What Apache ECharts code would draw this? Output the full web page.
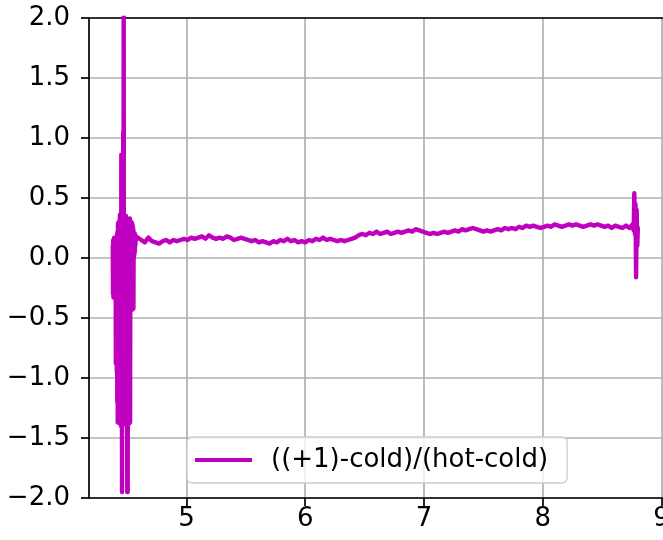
<!DOCTYPE html>
<html>
<head>
<meta charset="utf-8">
<script src="https://cdn.jsdelivr.net/npm/echarts@6/dist/echarts.min.js"></script>
<style>html,body{margin:0;padding:0;background:#fff}#c{width:663px;height:540px}</style>
</head>
<body>
<div id="c"></div>
<script>
var seriesName = "((+1)-cold)/(hot-cold)";
var xTicks = [5, 6, 7, 8, 9];
var yTicks = [-2.0, -1.5, -1.0, -0.5, 0.0, 0.5, 1.0, 1.5, 2.0];

// noisy start region
var xsStart = [4.380,4.382,4.384,4.386,4.388,4.390,4.392,4.394,4.396,4.398,4.400,4.402,4.404,4.406,4.408,4.410,4.412,4.414,4.416,4.418,4.420,4.422,4.424,4.426,4.428,4.430,4.432,4.434,4.436,4.438,4.440,4.442,4.444,4.446,4.448,4.450,4.452,4.454,4.456,4.458,4.460,4.462,4.464,4.466,4.468,4.470,4.472,4.474,4.476,4.478,4.480,4.482,4.484,4.486,4.488,4.490,4.492,4.494,4.496,4.498,4.500,4.502,4.504,4.506,4.508,4.510,4.512,4.514,4.516,4.518,4.520,4.522,4.524,4.526,4.528,4.530,4.532,4.534,4.536,4.538,4.540,4.542,4.544,4.546,4.548,4.550,4.552,4.554,4.556,4.558,4.560,4.562,4.564,4.566,4.568,4.570,4.574];
var ysStart = [0.10,-0.30,0.15,-0.33,0.12,-0.25,0.17,-0.33,0.08,-0.30,0.16,-0.28,0.14,-0.88,0.10,-0.70,0.17,-0.95,0.20,-1.20,0.22,-1.37,0.29,-1.30,0.25,-1.37,0.30,-1.35,0.28,-1.38,0.36,-1.30,0.33,-1.37,0.35,-1.40,0.86,-1.37,0.30,-1.95,0.32,-1.36,0.48,-1.38,1.05,-1.30,2.60,-1.37,0.35,-1.32,0.30,-1.38,0.33,-1.35,0.28,-1.30,0.35,-1.37,0.30,-1.40,0.29,-1.95,0.30,-1.95,0.32,-1.35,0.30,-1.20,0.28,-1.38,0.29,-1.30,0.33,-1.37,0.30,-0.43,0.29,-0.40,0.30,-0.43,0.28,-0.41,0.29,-0.43,0.27,-0.38,0.25,-0.42,0.22,0.00,0.20,0.03,0.19,0.05,0.20,0.10,0.18];

// main plateau
var xsMain = [4.59,4.62,4.65,4.68,4.71,4.74,4.77,4.80,4.83,4.86,4.89,4.92,4.95,4.98,5.01,5.04,5.07,5.10,5.13,5.16,5.19,5.22,5.25,5.28,5.31,5.34,5.37,5.40,5.43,5.46,5.49,5.52,5.55,5.58,5.61,5.64,5.67,5.70,5.73,5.76,5.79,5.82,5.85,5.88,5.91,5.94,5.97,6.00,6.03,6.06,6.09,6.12,6.15,6.18,6.21,6.24,6.27,6.30,6.33,6.36,6.39,6.42,6.45,6.48,6.51,6.54,6.57,6.60,6.63,6.66,6.69,6.72,6.75,6.78,6.81,6.84,6.87,6.90,6.93,6.96,6.99,7.02,7.05,7.08,7.11,7.14,7.17,7.20,7.23,7.26,7.29,7.32,7.35,7.38,7.41,7.44,7.47,7.50,7.53,7.56,7.59,7.62,7.65,7.68,7.71,7.74,7.77,7.80,7.83,7.86,7.89,7.92,7.95,7.98,8.01,8.04,8.07,8.10,8.13,8.16,8.19,8.22,8.25,8.28,8.31,8.34,8.37,8.40,8.43,8.46,8.49,8.52,8.55,8.58,8.61,8.64,8.67,8.70,8.73];
var ysMain = [0.19,0.15,0.13,0.17,0.14,0.13,0.12,0.14,0.15,0.13,0.15,0.14,0.15,0.16,0.15,0.17,0.16,0.17,0.18,0.16,0.19,0.17,0.16,0.17,0.16,0.18,0.17,0.15,0.16,0.17,0.16,0.15,0.14,0.15,0.13,0.14,0.13,0.12,0.14,0.13,0.15,0.14,0.16,0.14,0.15,0.13,0.14,0.13,0.15,0.14,0.16,0.15,0.17,0.15,0.16,0.15,0.14,0.15,0.14,0.15,0.16,0.17,0.19,0.20,0.19,0.21,0.20,0.22,0.20,0.21,0.22,0.20,0.21,0.22,0.21,0.22,0.23,0.22,0.24,0.23,0.22,0.21,0.20,0.21,0.20,0.21,0.22,0.21,0.22,0.23,0.22,0.24,0.23,0.24,0.25,0.24,0.23,0.22,0.23,0.22,0.23,0.24,0.23,0.25,0.24,0.25,0.24,0.26,0.25,0.27,0.26,0.27,0.26,0.25,0.26,0.27,0.26,0.28,0.27,0.26,0.27,0.28,0.27,0.28,0.27,0.26,0.27,0.28,0.27,0.28,0.27,0.26,0.27,0.25,0.27,0.26,0.25,0.27,0.25];

// noisy end region
var xsEnd = [8.755,8.765,8.770,8.775,8.780,8.785,8.790,8.795,8.800];
var ysEnd = [0.28,0.23,0.54,0.20,0.45,-0.16,0.40,0.10,0.25];

var xs = xsStart.concat(xsMain, xsEnd);
var ys = ysStart.concat(ysMain, ysEnd);
var data = xs.map(function (x, i) { return [x, ys[i]]; });

var FONT = "DejaVu Sans";
var chart = echarts.init(document.getElementById('c'), null, {renderer: 'canvas'});
chart.setOption({
  animation: false,
  backgroundColor: '#ffffff',
  grid: {left: 89, top: 18, width: 575, height: 480, containLabel: false, outerBoundsMode: 'none'},
  xAxis: [{
    type: 'value', min: 4.18, max: 9.02,
    axisLine: {show: true, onZero: false, lineStyle: {color: '#000', width: 1.7}},
    axisTick: {show: true, length: 8, lineStyle: {color: '#000', width: 1.7}, customValues: xTicks},
    axisLabel: {fontFamily: FONT, fontSize: 26, color: '#000', margin: 8, customValues: xTicks,
      hideOverlap: false,
      formatter: function (v) { return String(v); }},
    splitLine: {show: true, lineStyle: {color: '#b0b0b0', width: 1.7}}
  }, {
    type: 'value', min: 4.18, max: 9.02, position: 'top',
    axisLine: {show: true, onZero: false, lineStyle: {color: '#000', width: 1.7}},
    axisTick: {show: false}, axisLabel: {show: false}, splitLine: {show: false}
  }],
  yAxis: {
    type: 'value', min: -2, max: 2, interval: 0.5,
    axisLine: {show: true, onZero: false, lineStyle: {color: '#000', width: 1.7}},
    axisTick: {show: true, length: 8, lineStyle: {color: '#000', width: 1.7}},
    axisLabel: {fontFamily: FONT, fontSize: 26, color: '#000', margin: 19,
      formatter: function (v) { var s = Math.abs(v).toFixed(1); return v < 0 ? '\u2212' + s : s; }},
    splitLine: {show: true, lineStyle: {color: '#b0b0b0', width: 1.7}}
  },
  legend: {
    show: true, left: 187, top: 437,
    orient: 'horizontal',
    padding: [10, 19, 10, 8],
    backgroundColor: 'rgba(255,255,255,0.8)',
    borderColor: '#cccccc', borderWidth: 1.3, borderRadius: 5,
    itemWidth: 57, itemHeight: 4,
    textStyle: {fontFamily: FONT, fontSize: 26, color: '#000', padding: [0, 0, 0, 14]},
    data: [{name: seriesName, icon: 'rect'}]
  },
  series: [{
    name: seriesName, type: 'line', data: data,
    showSymbol: false, symbol: 'none',
    color: '#bf00bf',
    lineStyle: {color: '#bf00bf', width: 4.4, cap: 'round', join: 'round'},
    clip: true, z: 3
  }]
});
</script>
</body>
</html>
